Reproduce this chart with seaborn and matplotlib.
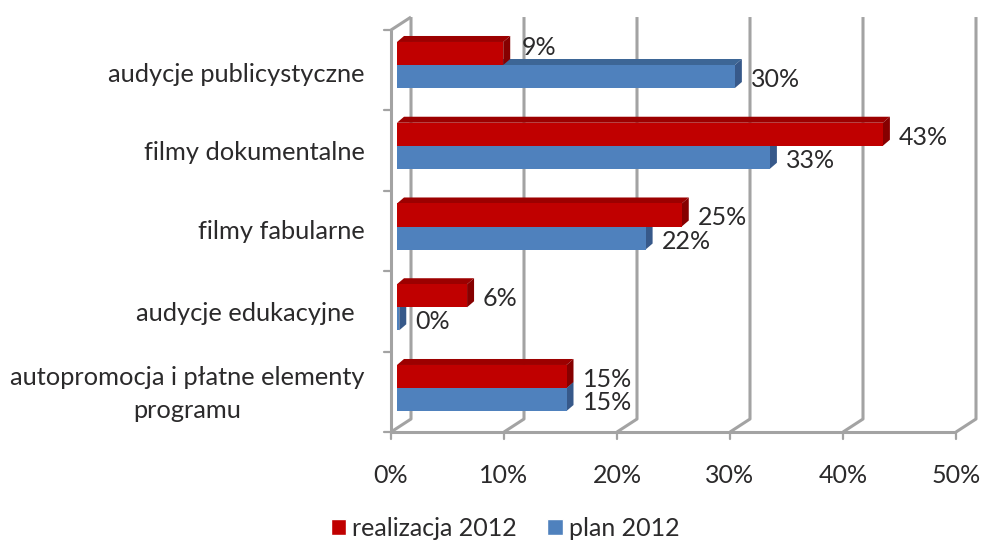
import numpy as np
import pandas as pd
import matplotlib
matplotlib.use('Agg')
import matplotlib.pyplot as plt
import matplotlib.transforms as mtransforms
from matplotlib.patches import Polygon, Patch
import seaborn as sns

categories = ['audycje publicystyczne', 'filmy dokumentalne', 'filmy fabularne',
              'audycje edukacyjne', 'autopromocja i płatne elementy\nprogramu']
realizacja = [9.4, 43.0, 25.2, 6.2, 15.0]
plan = [29.9, 33.0, 22.0, 0.2, 15.0]
realizacja_labels = ['9%', '43%', '25%', '6%', '15%']
plan_labels = ['30%', '33%', '22%', '0%', '15%']
x_ticks = [0, 10, 20, 30, 40, 50]

W, H = 981, 540
RED, RED_TOP, RED_SIDE = '#c00000', '#9c0000', '#860000'
BLUE, BLUE_TOP, BLUE_SIDE = '#4f81bd', '#3d6696', '#37598a'
GRID = '#a3a3a3'
TXT = '#2b2a2b'
FS = 18

sns.set_theme(style='white')
plt.rcParams['font.family'] = ['Lato', 'DejaVu Sans']

df = pd.DataFrame({
    'cat': categories * 2,
    'val': realizacja + plan,
    'serie': ['realizacja 2012'] * 5 + ['plan 2012'] * 5,
})

fig = plt.figure(figsize=(W / 100, H / 100), dpi=100)
ax = fig.add_axes([0, 0, 1, 1])

palette = {'realizacja 2012': RED, 'plan 2012': BLUE}
sns.barplot(data=df, y='cat', x='val', hue='serie', order=categories,
            hue_order=['realizacja 2012', 'plan 2012'], palette=palette, saturation=1,
            width=0.57, orient='h', legend=False, ax=ax, zorder=3, linewidth=0)

# 0% sits at x=397 px, 11.3 px per percent; first group at y=65, 80.75 px per group
ax.set_xlim(-397 / 11.3, (W - 397) / 11.3)
ax.set_ylim((H - 65) / 80.75, -65 / 80.75)
ax.axis('off')


def shifted(dx, dy):
    return mtransforms.offset_copy(ax.transData, fig=fig, x=dx, y=dy, units='dots')


# walls of the 3d box, offsets are pixels from the bar zero
y_floor, y_top = 4.545, -0.433
front = shifted(-6, 0)
back = shifted(14, 13)
frame = dict(color=GRID, lw=2.2, solid_capstyle='butt', zorder=1)
disp = ax.transData


def pxpt(x, y, tr):
    return tr.transform((x, y))


for t in x_ticks:
    a = pxpt(t, y_floor, front)
    b = pxpt(t, y_floor, back)
    c = pxpt(t, y_top, back)
    ax.plot([a[0], b[0], c[0]], [a[1], b[1], c[1]], transform=None, **frame)
    # tick below the floor
    ax.plot([a[0], a[0]], [a[1], a[1] - 7], transform=None, color=GRID, lw=1.6, zorder=1)

a = pxpt(0, y_top, front)
b = pxpt(0, y_top, back)
ax.plot([a[0], b[0]], [a[1], b[1]], transform=None, **frame)
a = pxpt(0, y_top, front)
b = pxpt(0, y_floor, front)
c = pxpt(50, y_floor, front)
ax.plot([a[0], b[0], c[0]], [a[1], b[1], c[1]], transform=None, **frame)
for i in range(6):
    p = pxpt(0, y_top + i * (y_floor - y_top) / 5, front)
    ax.plot([p[0] - 7, p[0]], [p[1], p[1]], transform=None, color=GRID, lw=1.6, zorder=1)

# depth faces from the seaborn bars
n = len(categories)
bars = [p for p in ax.patches if p.get_height() > 0][:2 * n]
dx, dy = 7, 6
for i, bar in enumerate(bars):
    is_red = i < n
    z = 5 if is_red else 3
    bar.set_zorder(z + 0.5)
    x0, y0 = disp.transform((bar.get_x(), bar.get_y()))
    x1, y1 = disp.transform((bar.get_x() + bar.get_width(), bar.get_y() + bar.get_height()))
    ytop, ybot = max(y0, y1), min(y0, y1)
    ax.add_patch(Polygon([(x0, ytop), (x1, ytop), (x1 + dx, ytop + dy), (x0 + dx, ytop + dy)],
                         closed=True, transform=None, lw=0, zorder=z,
                         facecolor=RED_TOP if is_red else BLUE_TOP))
    ax.add_patch(Polygon([(x1, ybot), (x1, ytop), (x1 + dx, ytop + dy), (x1 + dx, ybot + dy)],
                         closed=True, transform=None, lw=0, zorder=z,
                         facecolor=RED_SIDE if is_red else BLUE_SIDE))

# value labels
for i in range(n):
    up = 8 if i == 0 else -1
    extra = 3 if i == 0 else 0
    ax.annotate(realizacja_labels[i], xy=(realizacja[i], i - 0.1425), xytext=(16 + extra, up),
                xycoords='data', textcoords='offset pixels', ha='left', va='center_baseline',
                fontsize=FS, color=TXT, zorder=8)
    ax.annotate(plan_labels[i], xy=(plan[i], i + 0.1425), xytext=(16, -1),
                xycoords='data', textcoords='offset pixels', ha='left', va='center_baseline',
                fontsize=FS, color=TXT, zorder=8)

# category labels
label_x = [365, 365, 365, 355, 187]
label_dy = [-10, -7, -5, -6, -6]
for i, cat in enumerate(categories):
    last = '\n' in cat
    ax.annotate(cat, xy=(0, i), xycoords='data', xytext=(label_x[i] - 397, label_dy[i]),
                textcoords='offset pixels', ha='center' if last else 'right', va='center',
                multialignment='center', fontsize=18.3, color=TXT, linespacing=1.5)

# x tick labels
for t in x_ticks:
    ax.annotate(f'{t}%', xy=(t, y_floor), xycoords='data', xytext=(-6, -41),
                textcoords='offset pixels', ha='center', va='center_baseline',
                fontsize=FS, color=TXT)

handles = [Patch(facecolor=RED, label='realizacja 2012'), Patch(facecolor=BLUE, label='plan 2012')]
fig.legend(handles=handles, ncol=2, loc='center', bbox_to_anchor=(505 / W, 1 - 528 / H),
           frameon=False, fontsize=FS, labelcolor=TXT, handlelength=0.62, handleheight=0.62,
           handletextpad=0.25, columnspacing=1.2)

fig.savefig('out.png', dpi=100)
